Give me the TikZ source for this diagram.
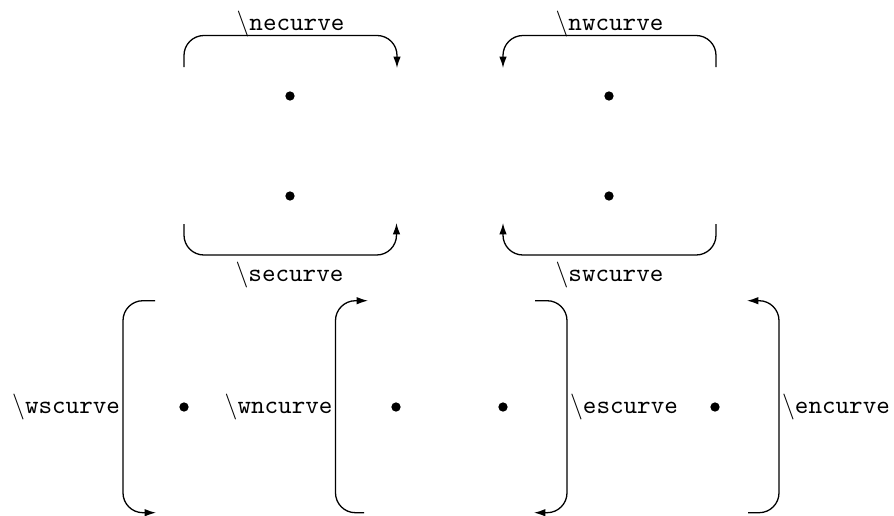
\documentclass[tikz,border=0pt]{standalone}
\usetikzlibrary{arrows.meta}
\begin{document}
\begin{tikzpicture}[
    x=0.387pt, y=-0.387pt,
    curve/.style={line width=0.5pt, rounded corners=7.7pt},
    arrowcurve/.style={curve, -{Latex[length=4.4pt,width=2.9pt]}},
    dot/.style={circle, fill=black, inner sep=0pt, minimum size=3.6pt},
    lbl/.style={inner sep=0pt, font=\normalsize}
  ]
  \useasboundingbox (0,0) rectangle (894,515);

  % ---- upper row: horizontal curves ----
  \node[dot] (d1) at (290,96) {};
  \node[dot] (d2) at (290,196) {};
  \node[dot] (d3) at (609,96) {};
  \node[dot] (d4) at (609,196) {};

  % \necurve
  \draw[arrowcurve] (184,67) -- (184,35.5) -- (397,35.5) -- (397,68);
  \node[lbl, anchor=base] (ne) at (290.5,30) {$\backslash$\texttt{necurve}};
  % \nwcurve
  \draw[arrowcurve] (716,67) -- (716,35.5) -- (503,35.5) -- (503,68);
  \node[lbl, anchor=base] (nw) at (609.5,30) {$\backslash$\texttt{nwcurve}};
  % \securve
  \draw[arrowcurve] (184,224) -- (184,255) -- (396.5,255) -- (396.5,223);
  \node[lbl, anchor=base] (se) at (289.5,281) {$\backslash$\texttt{securve}};
  % \swcurve
  \draw[arrowcurve] (716,224) -- (716,255) -- (503,255) -- (503,223);
  \node[lbl, anchor=base] (sw) at (609.5,281) {$\backslash$\texttt{swcurve}};

  % ---- lower row: vertical curves ----
  \node[dot] (d5) at (184,407) {};
  \node[dot] (d6) at (396,407) {};
  \node[dot] (d7) at (503,407) {};
  \node[dot] (d8) at (715,407) {};

  % \wscurve
  \draw[arrowcurve] (155,300.7) -- (123,300.7) -- (123,512.7) -- (156,512.7);
  \node[lbl, anchor=base east] (ws) at (120.5,413) {$\backslash$\texttt{wscurve}};
  % \wncurve
  \draw[arrowcurve] (364,512.7) -- (335.5,512.7) -- (335.5,300.7) -- (368,300.7);
  \node[lbl, anchor=base east] (wn) at (333,413) {$\backslash$\texttt{wncurve}};
  % \escurve
  \draw[arrowcurve] (535,300.7) -- (567,300.7) -- (567,512.7) -- (534,512.7);
  \node[lbl, anchor=base west] (es) at (569.5,413) {$\backslash$\texttt{escurve}};
  % \encurve
  \draw[arrowcurve] (748,512.7) -- (779,512.7) -- (779,300.7) -- (747,300.7);
  \node[lbl, anchor=base west] (en) at (781.5,413) {$\backslash$\texttt{encurve}};
\end{tikzpicture}
\end{document}
